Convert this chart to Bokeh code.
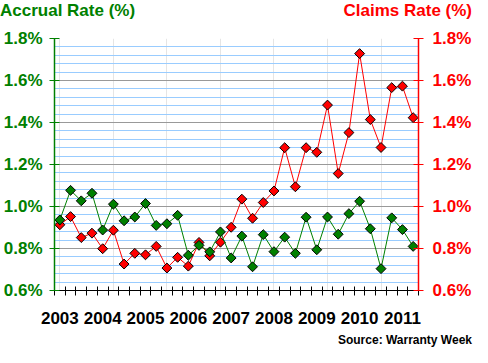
import math
from bokeh.plotting import figure
from bokeh.layouts import column
from bokeh.models import (Range1d, LinearAxis, FixedTicker, SingleIntervalTicker,
                          PrintfTickFormatter, Grid, Div)
from bokeh.embed import file_html
from bokeh.resources import INLINE

years = ["2003", "2004", "2005", "2006", "2007", "2008", "2009", "2010", "2011"]

# quarterly values, Q1 2003 .. Q2 2011 (percent)
accrual = [0.936, 1.077, 1.027, 1.063, 0.888, 1.011, 0.932, 0.950, 1.014, 0.910,
           0.918, 0.958, 0.768, 0.815, 0.784, 0.879, 0.755, 0.859, 0.713, 0.866,
           0.785, 0.854, 0.777, 0.949, 0.794, 0.950, 0.868, 0.966, 1.025, 0.894,
           0.704, 0.946, 0.890, 0.810]
claims = [0.913, 0.952, 0.852, 0.873, 0.799, 0.887, 0.726, 0.777, 0.770, 0.810,
          0.707, 0.758, 0.716, 0.829, 0.765, 0.830, 0.901, 1.035, 0.944, 1.019,
          1.074, 1.280, 1.094, 1.280, 1.258, 1.483, 1.157, 1.352, 1.728, 1.414,
          1.281, 1.566, 1.573, 1.423]

left_title = "Accrual Rate (%)"
right_title = "Claims Rate (%)"
source_text = "Source: Warranty Week"

GREEN = "#008000"
RED = "#FF0000"
FONT = "Liberation Sans"

n = len(accrual)
xs = list(range(n))

p = figure(frame_width=364, frame_height=252,
           min_border_left=52, min_border_right=56,
           min_border_top=17, min_border_bottom=42,
           x_range=Range1d(-0.5, n - 0.5), y_range=Range1d(0.6, 1.8),
           x_axis_location=None, y_axis_location=None,
           output_backend="svg", toolbar_location=None, margin=(0, 0, 0, 0))
p.outline_line_color = None
p.background_fill_color = "white"
p.border_fill_color = "white"

yticker = SingleIntervalTicker(interval=0.2, num_minor_ticks=5)

grid = Grid(dimension=1, ticker=yticker,
            grid_line_color="#999999", grid_line_width=1,
            minor_grid_line_color="#99CCFF", minor_grid_line_width=1)
p.add_layout(grid, "center")

def yaxis(color, standoff):
    return LinearAxis(ticker=yticker,
                      formatter=PrintfTickFormatter(format="%.1f%%"),
                      axis_line_color=color, axis_line_width=1.5,
                      major_tick_line_color=color, major_tick_in=5, major_tick_out=5,
                      minor_tick_line_color=None,
                      major_label_text_color=color,
                      major_label_text_font=FONT,
                      major_label_text_font_style="bold",
                      major_label_text_font_size="17px",
                      major_label_standoff=standoff)

p.add_layout(yaxis(GREEN, 7), "left")
p.add_layout(yaxis(RED, 9), "right")

year_ticks = [4 * i for i in range(len(years))]
xaxis = LinearAxis(ticker=FixedTicker(ticks=year_ticks,
                                      minor_ticks=[i - 0.5 for i in range(n + 1)]),
                   major_label_overrides={t: y for t, y in zip(year_ticks, years)},
                   axis_line_color="black", axis_line_width=1,
                   major_tick_line_color=None, major_tick_in=0, major_tick_out=5,
                   minor_tick_line_color="black", minor_tick_in=4, minor_tick_out=5,
                   major_label_text_color="black",
                   major_label_text_font=FONT,
                   major_label_text_font_style="bold",
                   major_label_text_font_size="17px",
                   major_label_standoff=16)
p.add_layout(xaxis, "below")

# claims (red) underneath, accrual (green) on top
p.line(xs, claims, line_color=RED, line_width=1)
p.scatter(xs, claims, marker="square", angle=math.pi / 4, size=7,
          fill_color=RED, line_color="black", line_width=1)
p.line(xs, accrual, line_color=GREEN, line_width=1)
p.scatter(xs, accrual, marker="square", angle=math.pi / 4, size=7,
          fill_color=GREEN, line_color="black", line_width=1)

header = Div(
    text=(f'<div style="width:472px;display:flex;justify-content:space-between;'
          f'font-family:\'{FONT}\';font-weight:bold;font-size:17px;line-height:21px;">'
          f'<span style="color:{GREEN}">{left_title}</span>'
          f'<span style="color:{RED}">{right_title}</span></div>'),
    width=472, height=21, margin=(0, 0, 0, 0))

footer = Div(
    text=(f'<div style="width:472px;text-align:right;'
          f'font-family:\'{FONT}\';font-weight:bold;font-size:12px;line-height:14px;'
          f'color:black;">{source_text}</div>'),
    width=472, height=15, margin=(0, 0, 0, 0))

layout = column(header, p, footer, spacing=0, margin=(0, 0, 0, 0))

open("out.html", "w").write(file_html(layout, INLINE))
